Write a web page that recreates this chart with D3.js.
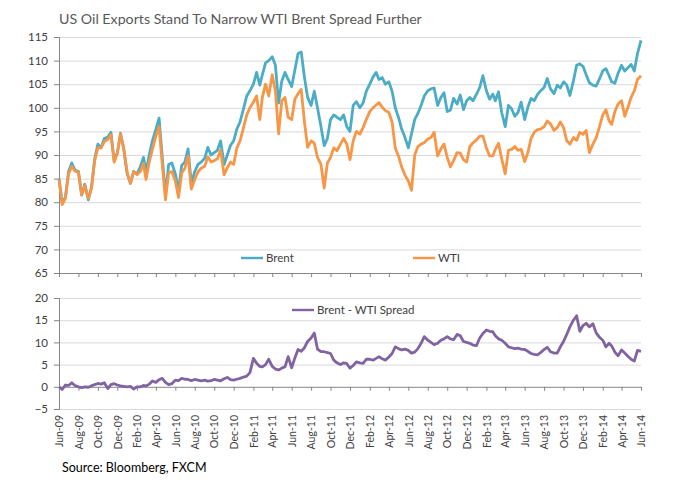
<!DOCTYPE html>
<html><head><meta charset="utf-8">
<script src="https://cdn.jsdelivr.net/npm/d3@7"></script>
<style>
body{margin:0;background:#fff;}
svg text{font-family:Lato,"Open Sans",sans-serif;fill:#404040;}
</style></head>
<body><svg id="c" width="679" height="480"></svg>
<script>
// Values sampled on day 1, 11 and 21 of each month, from Jun-2009 to Jun-2014
const startDate = "2009-06-01";
const brent = [
85,80,81, 86.5,88.3,86.8, 86.5,81.5,83.8, 80.5,83.2,89.2, 92.3,91.5,93.5, 93.8,94.8,88.8,
90.5,94.6,91.2, 86,84,86.5, 86,87.5,89.5, 86.5,90,93, 95.5,97.8,89.5, 81.5,88,88.3,
86,82.5,87.8, 88.5,91.3,84, 86.5,88,88.5, 89.3,91.6,90, 90.5,91,93, 88,90,92,
93,95.5,97, 99.8,102.5,103.6, 105,107.5,104.8, 107,109.5,110, 110.8,109,101, 105.7,107.5,106,
104.5,108,111.5, 111.8,106.5,102.2, 100.5,103.5,100, 96,92,93.5, 97.5,98.5,98, 97.5,98.5,96,
95,100.5,101.3, 100,101,103.5, 105,106.5,107.5, 106,106.4,105, 105.5,103.5,100, 98,95.5,93.8,
91.5,94.5,97.5, 98.8,100.5,102.5, 103.6,104,104.2, 100.5,102.2,103.2, 99.2,99.5,102, 100.8,102.7,99.6,
101.5,102.2,101.5, 102.9,104.3,106.8, 103.6,101.8,102.9, 101.5,103.4,99, 96,100.5,99.8, 98.2,99,101.2,
97.5,100.1,102, 101.5,102.8,103.6, 104.3,106.2,104, 103,104.8,104.2, 105.5,104.8,102.6, 105.7,109,109.3,
108.8,107,105.3, 104.8,104.6,106, 107.8,108.3,106.8, 105.5,105.2,107.3, 109,107.8,108.5, 109.2,107.8,111.5,
114.3];
const wti = [
84.8,79.5,80.8, 86,87.6,86.6, 86.3,81.6,83.5, 80.8,83,88.8, 91.5,91.5,92.8, 93.3,94.3,88.5,
90.3,94.4,91.5, 86.2,84,86.5, 85.8,86.5,88.2, 84.8,88.5,91.2, 94,96,88, 80.5,86.2,86.5,
84.5,81,86.2, 87.2,89.8,82.8, 84.8,86.4,87.2, 87.6,89.6,88.5, 88.8,89.2,91, 85.8,87.3,88.5,
88,91.5,93, 95.8,98.5,100, 101.2,102.5,97.5, 102.2,105,102.5, 107,103.5,94.5, 101.5,102.2,98,
97.5,101.8,103, 103.9,97,91.6, 93,92.5,89.5, 88,83,88.3, 89.5,91.5,90.9, 92.3,93.5,92.3,
89,93,95, 94.4,95.8,97.5, 99.2,100,100.6, 101.1,100.1,99.4, 99,97,91.5, 89.8,87.5,85.8,
84.5,82.5,90, 91.8,92.3,92.6, 93.4,93.7,94.8, 89.8,91.3,92.3, 89.5,87.5,88.8, 90.5,90.4,89,
88.5,91.8,92.6, 93.2,94,94, 91.5,89.8,89.8, 91.2,92.5,89.2, 86,91,91.2, 91.8,91,91.2,
88.6,90.5,93.5, 94.8,95.4,95.5, 96,97.2,96.6, 95.2,95.8,97, 95.8,93,92.3, 93.7,93.1,94.8,
94.4,95.2,90.5, 92.3,93.6,95.8, 98.5,99.6,97.2, 96.5,99.2,100.8, 101.5,98.2,100.1, 102.2,103.6,106,
106.8];
const spread = [
0,-0.6,0.4, 0.3,0.9,0.3, 0,-0.2,0, -0.1,0.2,0.5, 0.75,0.6,0.9, -0.4,0.5,0.7,
0.4,0.2,0.1, 0,0.1,-0.5, 0,0,0.3, 0.2,0.6,1.3, 1.0,1.6,1.9, 1.0,0.5,0.7,
1.5,1.4,1.9, 1.7,1.65,1.4, 1.65,1.5,1.35, 1.5,1.3,1.4, 1.65,1.5,1.35, 1.8,2.1,1.6,
1.5,1.7,1.9, 2.2,2.4,3.2, 6.4,5.3,4.6, 4.5,5.0,6.2, 4.6,4.0,3.8, 4.2,4.5,6.8,
4.3,6.5,8.4, 8.0,8.8,10.2, 11.0,12.1,8.5, 7.9,7.9,7.7, 7.5,6.0,5.4, 5.0,5.4,5.2,
4.2,4.8,5.6, 5.4,5.3,6.2, 6.2,6.0,6.4, 6.8,6.3,6.0, 6.7,7.5,9.0, 8.6,8.3,8.5,
8.2,7.6,7.8, 8.6,9.8,11.3, 10.5,10.0,9.5, 9.8,10.5,10.8, 11.3,10.8,10.6, 11.8,11.5,10.2,
10.0,9.8,9.4, 9.3,11.0,12.0, 12.8,12.5,12.4, 11.5,10.8,10.5, 9.8,9.0,8.8, 8.6,8.7,8.5,
8.4,8.0,7.5, 7.3,7.2,7.7, 8.4,8.9,7.9, 7.6,7.6,9.0, 10.2,11.8,13.5, 15.0,16.0,12.5,
13.8,14.3,13.5, 14.2,12.2,11.2, 10.5,9.0,9.8, 9.2,7.8,7.0, 8.3,7.6,6.9, 6.2,5.8,8.2,
8.0];
const topTicks = [65,70,75,80,85,90,95,100,105,110,115];
const bottomTicks = [-5,0,5,10,15,20];
const seriesNames = ["Brent","WTI","Brent - WTI Spread"];
const seriesColors = ["#4BACC6","#F79646","#8064A2"];
const titleText = "US Oil Exports Stand To Narrow WTI Brent Spread Further";
const sourceText = "Source: Bloomberg, FXCM";

const parse = d3.timeParse("%Y-%m-%d");
const t0 = parse(startDate);
const dates = brent.map((_, i) => {
  const d = d3.timeMonth.offset(t0, Math.floor(i / 3));
  return d3.timeDay.offset(d, (i % 3) * 10);
});

const svg = d3.select("#c");
const L = 59, R = 641;
const tEnd = d3.timeMonth.offset(t0, 60);
const x = d3.scaleTime().domain([t0, tEnd]).range([L, R]);
const yT = d3.scaleLinear().domain([65, 115]).range([273, 37]);
const yB = d3.scaleLinear().domain([-5, 20]).range([409, 298]);
const monthTicks = d3.timeMonth.range(t0, d3.timeMonth.offset(tEnd, 1), 2);
const fmt = d3.timeFormat("%b-%y");

function grid(y, vals) {
  const g = svg.append("g").attr("transform", `translate(${L},0)`)
    .call(d3.axisLeft(y).tickValues(vals).tickSize(-(R - L)).tickFormat(""));
  g.select(".domain").remove();
  g.selectAll("line").attr("stroke", "#d9d9d9").attr("stroke-width", 1);
}
grid(yT, topTicks.filter(v => v !== 65));
grid(yB, bottomTicks.filter(v => v !== 0));

function yAxis(y, vals) {
  const g = svg.append("g").attr("transform", `translate(${L},0)`)
    .call(d3.axisLeft(y).tickValues(vals).tickSize(5).tickPadding(6));
  g.selectAll("path,line").attr("stroke", "#868686");
  g.selectAll("text").attr("font-size", 11.5).style("fill", "#404040");
}
yAxis(yT, topTicks);
yAxis(yB, bottomTicks);

function xAxisLine(yPos) {
  const g = svg.append("g").attr("transform", `translate(0,${yPos})`)
    .call(d3.axisBottom(x).tickValues(monthTicks).tickSize(4).tickSizeOuter(0).tickFormat(""));
  g.selectAll("path,line").attr("stroke", "#868686");
}
xAxisLine(yT(65));
xAxisLine(yB(0));

// rotated month labels under the lower panel
const lab = svg.append("g").attr("transform", `translate(0,${yB(-5)})`)
  .call(d3.axisBottom(x).tickValues(monthTicks).tickSize(0).tickFormat(fmt));
lab.select(".domain").remove();
lab.selectAll("text")
  .attr("transform", "rotate(-90)")
  .attr("x", -6).attr("y", 0).attr("dy", "0.35em")
  .attr("text-anchor", "end").attr("font-size", 10.5).style("fill", "#404040");

const lineT = d3.line().x((d, i) => x(dates[i])).y(d => yT(d));
const lineB = d3.line().x((d, i) => x(dates[i])).y(d => yB(d));

const sw = 2.8;
svg.append("path").datum(brent).attr("d", lineT).attr("fill", "none")
  .attr("stroke", seriesColors[0]).attr("stroke-width", sw).attr("stroke-linejoin", "round");
svg.append("path").datum(wti).attr("d", lineT).attr("fill", "none")
  .attr("stroke", seriesColors[1]).attr("stroke-width", sw).attr("stroke-linejoin", "round");
svg.append("path").datum(spread).attr("d", lineB).attr("fill", "none")
  .attr("stroke", seriesColors[2]).attr("stroke-width", sw).attr("stroke-linejoin", "round");

// legends
function legend(xp, yp, name, color) {
  svg.append("line").attr("x1", xp).attr("x2", xp + 22).attr("y1", yp).attr("y2", yp)
    .attr("stroke", color).attr("stroke-width", 2.4);
  svg.append("text").attr("x", xp + 25).attr("y", yp).attr("dy", "0.35em")
    .attr("font-size", 11.5).text(name);
}
legend(241, 258, seriesNames[0], seriesColors[0]);
legend(413, 258, seriesNames[1], seriesColors[1]);
legend(292, 310, seriesNames[2], seriesColors[2]);

svg.append("text").attr("x", 59).attr("y", 24).attr("font-size", 14.2)
  .style("fill", "#595959").text(titleText);
svg.append("text").attr("x", 62).attr("y", 472).attr("font-size", 12.5)
  .style("fill", "#000").text(sourceText);
</script>
</body></html>
